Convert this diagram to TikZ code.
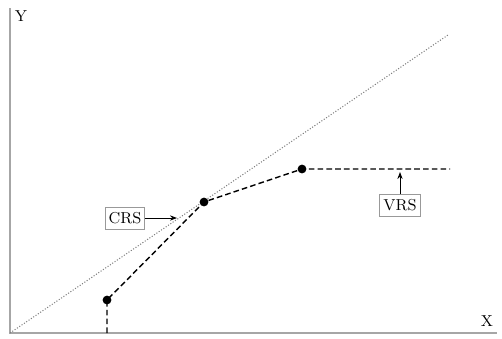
\documentclass[tikz,border=0pt]{standalone}
\usepackage{tikz}
\usetikzlibrary{arrows.meta, positioning, calc}
\usepackage{xcolor}

\begin{document}
\begin{tikzpicture}[x=0.02cm, y=-0.02cm,
        axisline/.style={gray!70, line width=0.7pt},
        frontier/.style={black, line width=0.8pt, dash pattern=on 3.2pt off 1.8pt},
        tagbox/.style={draw=gray!80, line width=0.5pt, inner xsep=2pt, inner ysep=3pt, font=\small},
        pt/.style={circle, fill=black, inner sep=0pt, minimum size=5pt}]
        \useasboundingbox (0,0) rectangle (502,338);

        % Axes
        \coordinate (O) at (10,333);
        \coordinate (ytop) at (10,8);
        \coordinate (xend) at (497,333);
        \draw[axisline] (ytop) -- (O) -- (xend);
        \node (ylab) at (21,16) {\small Y};
        \node (xlab) at (487,321) {\small X};

        % CRS ray
        \coordinate (rayend) at (448,35);
        \draw[gray, densely dotted, line width=0.6pt] (O) -- (rayend);

        % VRS frontier
        \coordinate (base) at (107,333);
        \node[pt] (p1) at (107,300) {};
        \node[pt] (p2) at (204,202) {};
        \node[pt] (p3) at (302,169) {};
        \coordinate (flat) at (450,169);
        \draw[frontier] (base) -- (p1.center) -- (p2.center) -- (p3.center) -- (flat);

        % Labels
        \node[tagbox] (crs) at (125,218) {CRS};
        \coordinate (crstip) at (177,218);
        \draw[-{Stealth[length=4pt]}, line width=0.5pt] (crs) -- (crstip);
        \node[tagbox] (vrs) at (400,205) {VRS};
        \coordinate (vrstip) at (400,172);
        \draw[-{Stealth[length=4pt]}, line width=0.5pt] (vrs) -- (vrstip);
\end{tikzpicture}
\end{document}
